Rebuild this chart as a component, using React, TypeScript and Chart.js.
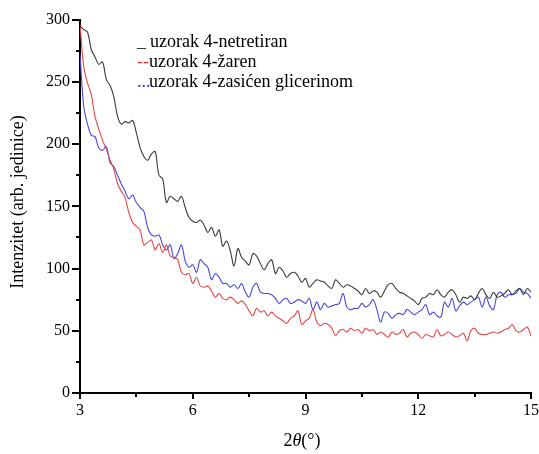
import React, { useEffect, useRef } from "react";
import { Chart, registerables } from "chart.js";

Chart.register(...registerables);

// 2θ grid (degrees), step 0.1 from 3 to 15
const twoTheta: number[] = Array.from({ length: 121 }, (_, i) => +(3 + i * 0.1).toFixed(1));

const seriesLabels = ["uzorak 4-netretiran", "uzorak 4-žaren", "uzorak 4-zasićen glicerinom"];

const netretiran: number[] = [
  295, 292, 290, 276, 270, 264, 266, 252, 247, 238,
  222, 216, 218, 217, 219, 209, 197, 190, 187, 192,
  194, 175, 172, 153, 158, 156, 154, 158, 149, 141,
  138, 137, 139, 135, 129, 133, 126, 131, 118, 122,
  114, 102, 116, 109, 106, 103, 112, 110, 104, 99,
  104, 107, 96, 101, 98, 93, 96, 97, 94, 89,
  92, 85, 88, 91, 90, 89, 86, 84, 91, 88,
  85, 87, 86, 84, 82, 79, 84, 80, 82, 81,
  77, 82, 87, 88, 84, 81, 80, 78, 76, 74,
  71, 76, 77, 80, 79, 83, 79, 77, 81, 83,
  79, 73, 77, 76, 78, 75, 80, 84, 79, 76,
  81, 77, 78, 80, 83, 79, 82, 84, 79, 84,
  81,
];

const zaren: number[] = [
  296, 262, 249, 240, 222, 212, 203, 196, 187, 180,
  168, 162, 157, 145, 137, 134, 131, 119, 121, 123,
  115, 120, 113, 119, 110, 109, 107, 97, 95, 96,
  88, 93, 86, 85, 86, 82, 77, 80, 76, 75,
  77, 75, 72, 74, 71, 66, 62, 68, 65, 66,
  62, 65, 62, 60, 58, 56, 60, 62, 66, 55,
  58, 60, 67, 57, 54, 56, 55, 52, 46, 50,
  51, 49, 52, 50, 51, 48, 52, 50, 51, 47,
  49, 47, 45, 49, 47, 48, 51, 45, 48, 49,
  47, 44, 47, 46, 45, 51, 46, 47, 49, 47,
  45, 46, 48, 42, 50, 52, 48, 47, 47, 48,
  49, 48, 49, 51, 52, 55, 50, 49, 51, 53,
  46,
];

const glicerin: number[] = [
  272, 230, 216, 207, 206, 197, 195, 198, 185, 182,
  175, 168, 162, 156, 159, 153, 149, 146, 133, 127,
  126, 127, 119, 115, 119, 108, 112, 119, 106, 101,
  103, 97, 107, 104, 101, 91, 96, 93, 88, 88,
  85, 87, 84, 88, 81, 77, 85, 88, 81, 80,
  80, 79, 76, 72, 75, 76, 72, 73, 75, 74,
  72, 76, 67, 73, 67, 72, 69, 70, 71, 72,
  80, 69, 67, 68, 68, 72, 69, 71, 75, 67,
  57, 65, 64, 60, 63, 64, 63, 67, 65, 63,
  65, 67, 71, 63, 65, 62, 61, 73, 69, 76,
  66, 70, 73, 71, 73, 75, 77, 69, 77, 70,
  67, 79, 81, 77, 79, 79, 80, 84, 81, 80,
  76,
];

const xTicks = [3, 6, 9, 12, 15];
const yTicks = [0, 50, 100, 150, 200, 250, 300];

const SERIF = "'Liberation Serif', 'Times New Roman', serif";

const decorPlugin = {
  id: "decor",
  afterDraw(chart: any) {
    const { ctx, scales } = chart;
    const xs = scales.x;
    const ys = scales.y;
    ctx.save();
    ctx.strokeStyle = "#000";
    ctx.lineWidth = 2;
    for (let v = 0; v <= 300; v += 25) {
      const py = Math.round(ys.getPixelForValue(v));
      const len = v % 50 === 0 ? 8 : 4;
      ctx.beginPath();
      ctx.moveTo(xs.left, py);
      ctx.lineTo(xs.left - len, py);
      ctx.stroke();
    }
    for (let v = 3; v <= 15.001; v += 1.5) {
      const px = Math.round(xs.getPixelForValue(v));
      const len = Math.abs(v % 3) < 0.001 ? 6 : 4;
      ctx.beginPath();
      ctx.moveTo(px, ys.bottom);
      ctx.lineTo(px, ys.bottom + len);
      ctx.stroke();
    }
    ctx.fillStyle = "#000";
    ctx.font = `18px ${SERIF}`;
    ctx.textAlign = "center";
    ctx.textBaseline = "middle";
    ctx.save();
    ctx.translate(18, 202);
    ctx.rotate(-Math.PI / 2);
    ctx.fillText("Intenzitet (arb. jedinice)", 0, 0);
    ctx.restore();
    ctx.textAlign = "left";
    const parts: [string, string][] = [
      ["2", `18px ${SERIF}`],
      ["θ", `italic 18px ${SERIF}`],
      ["(", `18px ${SERIF}`],
      ["°", `18px ${SERIF}`],
      [")", `18px ${SERIF}`],
    ];
    let total = 0;
    for (const [t, f] of parts) {
      ctx.font = f;
      total += ctx.measureText(t).width;
    }
    let cx = 302 - total / 2;
    for (const [t, f] of parts) {
      ctx.font = f;
      ctx.fillText(t, cx, 441);
      cx += ctx.measureText(t).width;
    }
    ctx.font = `18px ${SERIF}`;
    const legend: [string, string, string][] = [
      ["_ ", "#333", seriesLabels[0]],
      ["--", "#e0393c", seriesLabels[1]],
      ["...", "#3c3cd8", seriesLabels[2]],
    ];
    const ly = [42, 62, 82];
    legend.forEach(([mark, col, text], i) => {
      ctx.fillStyle = col;
      ctx.fillText(mark, 137, ly[i]);
      ctx.fillStyle = "#000";
      ctx.fillText(text, i === 0 ? 150 : 149, ly[i]);
    });
    ctx.restore();
  },
};

export default function App() {
  const ref = useRef<HTMLCanvasElement>(null);
  useEffect(() => {
    if (!ref.current) return;
    const mk = (vals: number[]) => vals.map((v, i) => ({ x: twoTheta[i], y: v }));
    const chart = new Chart(ref.current, {
      type: "line",
      data: {
        datasets: [
          { label: seriesLabels[0], data: mk(netretiran), borderColor: "#3a3a3a", borderWidth: 1.1, pointRadius: 0, tension: 0.35 },
          { label: seriesLabels[1], data: mk(zaren), borderColor: "#e5474a", borderWidth: 1.1, pointRadius: 0, tension: 0.35 },
          { label: seriesLabels[2], data: mk(glicerin), borderColor: "#4848dc", borderWidth: 1.1, pointRadius: 0, tension: 0.35 },
        ],
      },
      options: {
        responsive: false,
        animation: false,
        events: [],
        layout: { padding: { top: 19, right: 0, left: 0, bottom: 0 } },
        plugins: { legend: { display: false }, tooltip: { enabled: false } },
        scales: {
          x: {
            type: "linear",
            min: 3,
            max: 15,
            afterBuildTicks: (s: any) => { s.ticks = xTicks.map((v) => ({ value: v })); },
            afterFit: (s: any) => { s.height = 61; s.paddingRight = 8; },
            ticks: { color: "#000", font: { family: SERIF, size: 16 }, padding: 8, maxRotation: 0 },
            grid: { display: false, drawTicks: false },
            border: { display: true, color: "#000", width: 2 },
          },
          y: {
            min: 0,
            max: 300,
            afterBuildTicks: (s: any) => { s.ticks = yTicks.map((v) => ({ value: v })); },
            afterFit: (s: any) => { s.width = 80; },
            ticks: { color: "#000", font: { family: SERIF, size: 16 }, padding: 10 },
            grid: { display: false, drawTicks: false },
            border: { display: true, color: "#000", width: 2 },
          },
        },
      },
      plugins: [decorPlugin],
    });
    return () => chart.destroy();
  }, []);
  return (
    <div style={{ position: "fixed", left: 0, top: 0, width: 539, height: 454, background: "#fff" }}>
      <canvas ref={ref} width={539} height={454} />
    </div>
  );
}
